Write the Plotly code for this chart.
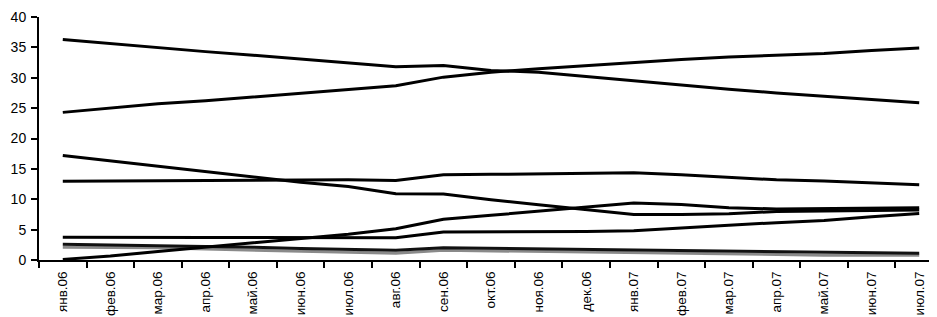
import plotly.graph_objects as go

months = ["янв.06", "фев.06", "мар.06", "апр.06", "май.06", "июн.06", "июл.06",
          "авг.06", "сен.06", "окт.06", "ноя.06", "дек.06", "янв.07", "фев.07",
          "мар.07", "апр.07", "май.07", "июн.07", "июл.07"]

s1 = [36.3, 35.6, 35.0, 34.3, 33.7, 33.1, 32.5, 31.8, 32.0, 31.2, 30.9, 30.2, 29.4,
      28.8, 28.1, 27.5, 26.9, 26.4, 25.9]
s2 = [24.3, 25.0, 25.7, 26.2, 26.8, 27.4, 28.1, 28.7, 30.1, 30.9, 31.5, 32.0, 32.6,
      33.0, 33.4, 33.7, 34.0, 34.5, 34.9]
s3 = [17.2, 16.3, 15.4, 14.5, 13.7, 12.8, 12.1, 10.9, 10.85, 9.9, 9.1, 8.3, 7.5,
      7.5, 7.6, 8.0, 8.1, 8.2, 8.25]
s4 = [12.95, 13.0, 13.05, 13.1, 13.15, 13.2, 13.2, 13.1, 14.05, 14.1, 14.15, 14.2, 14.35,
      14.05, 13.6, 13.2, 13.0, 12.7, 12.4]
s5 = [3.75, 3.7, 3.7, 3.7, 3.7, 3.7, 3.7, 3.65, 4.6, 4.6, 4.6, 4.7, 4.8,
      5.2, 5.7, 6.15, 6.5, 7.1, 7.65]
s6 = [0.1, 0.65, 1.4, 2.1, 2.8, 3.5, 4.25, 5.15, 6.7, 7.35, 8.0, 8.7, 9.4,
      9.15, 8.6, 8.4, 8.5, 8.5, 8.6]
s7 = [2.6, 2.5, 2.4, 2.3, 2.1, 1.9, 1.8, 1.6, 2.0, 1.9, 1.9, 1.8, 1.7,
      1.6, 1.4, 1.3, 1.2, 1.1, 1.1]
s8 = [2.1, 2.1, 2.0, 1.8, 1.6, 1.4, 1.3, 1.1, 1.6, 1.5, 1.4, 1.3, 1.2,
      1.0, 0.9, 0.9, 0.8, 0.8, 0.8]

y_ticks = [0, 5, 10, 15, 20, 25, 30, 35, 40]

fig = go.Figure()
series = [(s8, "#8a8a8a"), (s7, "#111111"), (s6, "#000000"), (s5, "#000000"),
          (s4, "#000000"), (s3, "#000000"), (s2, "#000000"), (s1, "#000000")]
for vals, col in series:
    fig.add_trace(go.Scatter(x=months, y=vals, mode="lines",
                             line=dict(color=col, width=3), showlegend=False,
                             hoverinfo="skip"))

fig.update_layout(
    width=937, height=317,
    margin=dict(l=31, r=2, t=9, b=65),
    paper_bgcolor="white", plot_bgcolor="white",
    font=dict(family="Liberation Sans, Arial, sans-serif", color="black"),
)
fig.update_xaxes(
    type="category", categoryorder="array", categoryarray=months,
    range=[-0.5, 18.5], automargin=False,
    showline=True, linecolor="black", linewidth=2,
    ticks="outside", tickson="boundaries", ticklen=6, tickwidth=2, tickcolor="black",
    tickangle=-90, tickfont=dict(size=13.5, family="Liberation Sans, Arial, sans-serif"),
    ticklabelstandoff=4,
    showgrid=False, zeroline=False,
)
fig.update_yaxes(
    range=[0, 40], tickvals=y_ticks, ticktext=[str(v) for v in y_ticks],
    automargin=False,
    showline=True, linecolor="black", linewidth=2,
    ticks="outside", ticklen=6, tickwidth=2, tickcolor="black",
    tickfont=dict(size=14, family="Liberation Sans Narrow, Arial Narrow, Liberation Sans, sans-serif"),
    ticklabeloverflow="allow", ticklabelstandoff=2,
    showgrid=False, zeroline=False,
)

fig.write_html("out.html")
